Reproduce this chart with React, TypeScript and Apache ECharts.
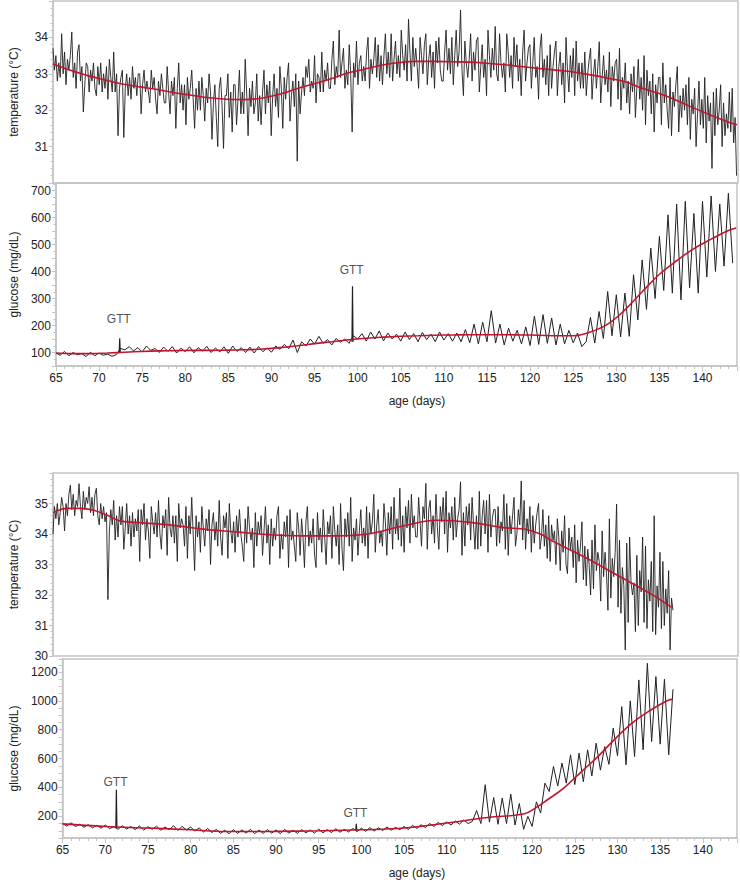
import React, { useEffect, useRef } from "react";
import * as echarts from "echarts";

// ---------- DATA ----------
// Upper animal: temperature, 6 readings per day starting at day 65
const tempStartDay = 65;
const tempStep = 1 / 6;
const tempTop = [
  33.7, 33.1, 33.5, 32.8, 33.3, 32.9,
  34.1, 33.0, 33.6, 32.7, 33.4, 33.1,
  33.5, 34.15, 32.9, 33.3, 32.6, 33.6,
  33.8, 32.8, 33.2, 31.95, 32.7, 33.3,
  33.2, 32.5, 33.1, 32.8, 33.3, 32.6,
  32.4, 33.2, 32.7, 33.3, 32.5, 33.0,
  32.6, 33.2, 32.3, 33.4, 32.9, 32.5,
  33.6, 32.5, 33.0, 31.3, 32.6, 32.9,
  33.1, 31.25, 32.6, 33.0, 32.4, 32.9,
  32.3, 33.2, 32.6, 32.9, 32.4, 33.0,
  33.0, 31.9, 32.7, 33.1, 32.5, 32.8,
  32.5, 32.2, 33.1, 32.6, 32.9, 32.3,
  31.9, 32.8, 32.4, 33.0, 32.6, 32.2,
  32.2, 33.2, 32.5, 31.9, 32.8, 32.4,
  32.9, 31.5, 32.6, 33.3, 32.2, 32.7,
  32.0, 32.7, 31.6, 32.9, 32.3, 32.6,
  33.1, 32.3, 31.5, 32.6, 32.0, 32.8,
  32.0, 32.9, 32.4, 31.7, 32.6, 32.2,
  33.0, 32.5, 31.2, 32.2, 32.7, 31.8,
  31.0, 32.6, 32.9, 32.1, 30.95, 32.4,
  32.4, 33.0, 31.8, 32.5, 31.4, 32.7,
  32.7, 31.6, 32.3, 33.1, 31.9, 32.5,
  31.9, 33.4, 32.5, 31.3, 32.6, 32.1,
  32.8, 31.9, 32.2, 33.0, 31.7, 32.4,
  31.6, 32.5, 33.1, 31.9, 32.7, 32.2,
  32.8, 31.3, 32.4, 33.0, 32.1, 32.6,
  31.8, 33.2, 32.6, 31.5, 32.9, 32.3,
  32.9, 33.3, 31.7, 32.4, 32.8, 32.1,
  33.0, 30.6, 32.8, 31.9, 32.5, 32.9,
  32.4, 33.2, 32.9, 33.4, 32.5, 32.8,
  32.6, 33.5, 32.2, 33.0, 32.9, 32.5,
  33.6, 32.5, 33.1, 32.8, 33.3, 32.6,
  32.6, 33.4, 33.9, 32.7, 33.2, 32.9,
  34.2, 32.9, 33.3, 33.7, 32.6, 33.1,
  32.7, 33.8, 33.0, 31.4, 33.3, 32.9,
  33.9, 32.7, 33.3, 33.5, 32.8, 33.2,
  32.8, 33.6, 34.0, 32.6, 33.4, 33.0,
  33.4, 34.0, 32.9, 33.8, 32.8, 33.5,
  32.7, 33.5, 34.1, 33.0, 33.6, 32.9,
  34.1, 32.8, 33.4, 33.9, 33.0, 33.5,
  32.9, 34.2, 33.5, 33.1, 33.8, 32.8,
  34.5, 33.6, 32.8, 34.0, 33.2, 33.7,
  33.2, 32.6, 34.0, 33.5, 33.0, 33.8,
  34.1, 32.7, 33.4, 33.8, 32.9, 33.6,
  32.6, 33.9, 33.3, 34.0, 33.1, 32.8,
  32.8, 33.6, 34.2, 33.1, 33.7, 33.0,
  34.0, 32.7, 33.5, 34.2, 33.2, 33.6,
  34.75, 33.1, 32.4, 33.9, 33.3, 32.9,
  33.4, 34.1, 32.8, 33.6, 33.1, 33.9,
  34.0, 32.5, 33.2, 33.8, 32.9, 33.4,
  32.4, 34.2, 33.5, 32.9, 33.7, 33.1,
  34.3, 33.0, 32.8, 34.1, 33.3, 32.9,
  33.3, 32.5, 34.1, 33.6, 32.9, 33.5,
  32.6, 34.0, 33.2, 33.8, 32.8, 33.4,
  32.4, 33.6, 34.2, 32.8, 33.3, 33.7,
  33.8, 32.6, 33.3, 34.0, 32.9, 33.2,
  32.3, 33.7, 34.1, 32.9, 33.4, 32.7,
  33.5, 32.4, 33.8, 32.6, 33.2, 33.6,
  33.9, 32.4, 33.2, 33.6, 32.7, 33.3,
  32.2, 34.0, 33.1, 32.5, 33.5, 32.9,
  33.7, 32.4, 33.9, 32.8, 33.3, 32.6,
  33.3, 32.6, 33.6, 32.4, 33.0, 33.4,
  33.7, 32.3, 33.0, 33.4, 32.6, 33.2,
  33.88, 32.2, 32.9, 33.5, 32.7, 33.1,
  32.5, 33.6, 32.1, 33.2, 32.8, 33.3,
  33.4, 32.3, 33.7, 32.0, 32.9, 32.6,
  33.3, 32.2, 32.8, 31.9, 33.0, 32.5,
  33.2, 31.8, 32.6, 33.4, 32.3, 32.9,
  32.0, 33.5, 31.6, 33.1, 32.4, 32.8,
  31.9, 33.0, 31.4, 32.7, 32.2, 32.9,
  32.9, 31.6, 33.3, 32.2, 32.7, 32.0,
  31.5, 32.9, 31.3, 32.5, 32.1, 32.7,
  33.2, 31.4, 32.4, 31.8, 32.6, 32.0,
  32.7, 31.6, 32.9, 31.2, 32.3, 31.9,
  32.6, 31.0, 31.9, 32.8, 31.6, 32.3,
  31.5, 32.9, 31.1, 32.4, 31.7, 32.2,
  30.4, 32.5, 31.3, 32.6, 31.6, 32.0,
  32.7, 31.0, 32.2, 31.3, 31.9, 31.5,
  32.5, 31.4, 32.6, 31.1, 31.8, 30.2,
];
const tempTopTrendDays = [
  65, 67, 69, 71, 73, 75, 77, 79, 81, 83, 85, 87, 89, 91, 93, 95, 97, 99, 101, 103, 105,
  107, 109, 111, 113, 115, 117, 119, 121, 123, 125, 127, 129, 131, 133, 135, 137, 139, 141, 143, 143.9,
];
const tempTopTrend = [
  33.27, 33.1, 32.95, 32.83, 32.72, 32.64, 32.57, 32.48, 32.41, 32.34, 32.3, 32.29, 32.33, 32.43,
  32.58, 32.72, 32.86, 33.02, 33.13, 33.24, 33.31, 33.34, 33.34, 33.33, 33.32, 33.29, 33.25, 33.2,
  33.15, 33.1, 33.05, 32.97, 32.88, 32.78, 32.6, 32.45, 32.26, 32.05, 31.85, 31.66, 31.6,
];

// Upper animal: glucose, 2 readings per day starting at day 65
const glucStartDay = 65;
const glucStep = 0.5;
const glucTop = [
  98, 90, 104, 88, 100, 92, 96, 85, 101, 88, 98, 90, 94, 86, 92, 115,
  110, 122, 106, 118, 102, 124, 108, 115, 100, 120, 104, 122, 98, 116, 103, 121,
  99, 118, 105, 123, 100, 117, 102, 121, 97, 124, 104, 118, 100, 120, 98, 122,
  103, 117, 101, 124, 112, 130, 114, 146, 100, 140, 124, 150, 131, 160, 134, 148,
  128, 152, 138, 150, 134, 162, 150, 170, 142, 176, 150, 180, 143, 172, 150, 168,
  142, 176, 148, 170, 140, 174, 148, 168, 140, 176, 146, 170, 142, 172, 140, 185,
  136, 205, 132, 212, 140, 255, 135, 205, 128, 190, 142, 182, 132, 195, 126, 235,
  130, 240, 134, 228, 128, 205, 132, 182, 136, 172, 122, 140, 230, 135, 252, 152,
  326, 162, 314, 158, 320, 160, 388, 221, 443, 260, 487, 300, 530, 330, 610, 320,
  650, 295, 660, 340, 615, 320, 660, 380, 680, 400, 650, 420, 690, 431,
];
const glucTopTrend = [
  98, 96, 96, 98, 101, 104, 106, 107, 108, 108, 109, 110, 113, 118, 125, 133, 140, 147, 153, 157,
  160, 162, 164, 165, 166, 166, 166, 165, 164, 162, 162, 176, 205, 258, 325, 390, 440, 485, 520,
  552, 561,
];

// Lower animal: temperature, 6 readings per day starting at day 65
const tempBottom = [
  34.0, 34.9, 34.5, 35.0, 34.3, 34.7,
  35.2, 34.9, 34.1, 35.0, 34.6, 35.3,
  35.6, 34.8, 35.3, 34.6, 35.1, 34.9,
  35.65, 34.9, 34.5, 35.4, 34.8, 35.2,
  35.0, 35.55, 34.7, 35.2, 34.6, 35.3,
  35.5, 34.6, 34.3, 35.0, 34.5, 34.9,
  34.4, 34.7, 31.85, 34.1, 34.8, 34.3,
  35.1, 33.8, 34.6, 33.9, 34.9, 34.3,
  34.9, 33.5, 34.2, 35.0, 34.0, 34.6,
  33.6, 34.7, 33.9, 34.5, 34.1, 34.8,
  33.1, 34.8, 34.3, 35.0, 33.8, 34.5,
  34.1, 33.2, 34.9, 34.4, 34.0, 34.7,
  33.9, 35.1, 34.0, 33.5, 34.6, 34.2,
  34.8, 33.3, 35.2, 34.2, 33.9, 34.6,
  33.7, 34.6, 33.1, 35.0, 34.2, 34.5,
  34.3, 33.6, 34.9, 33.2, 34.6, 34.0,
  35.2, 34.0, 32.8, 34.6, 33.9, 34.4,
  33.4, 34.9, 34.2, 33.6, 34.5, 34.1,
  34.8, 33.0, 34.3, 34.7, 33.8, 34.4,
  33.6, 35.1, 33.9, 33.3, 34.6, 34.2,
  34.7, 33.2, 35.0, 34.1, 33.7, 34.4,
  33.4, 34.6, 33.9, 34.8, 34.0, 33.6,
  33.1, 34.5, 33.7, 34.9, 34.2, 33.8,
  34.2, 32.9, 34.7, 33.6, 34.4, 34.0,
  34.6, 33.3, 34.1, 34.9, 33.7, 34.3,
  33.0, 34.5, 33.6, 34.2, 33.8, 34.6,
  34.9, 33.2, 34.0, 33.5, 34.4, 33.9,
  34.6, 32.9, 34.8, 33.8, 34.1, 33.6,
  33.1, 34.7, 34.2, 33.3, 34.5, 33.9,
  32.9, 34.4, 34.9, 33.6, 34.1, 33.7,
  34.5, 33.3, 32.9, 34.7, 33.8, 34.2,
  33.4, 34.8, 33.9, 33.0, 34.4, 34.0,
  34.6, 33.2, 34.9, 34.1, 33.6, 34.3,
  33.0, 35.0, 33.5, 32.8, 34.5, 33.9,
  34.7, 33.6, 35.2, 33.1, 34.2, 33.8,
  34.5, 33.3, 34.1, 34.8, 33.7, 34.2,
  33.6, 34.9, 33.2, 34.7, 34.0, 34.4,
  35.3, 33.4, 34.3, 34.8, 33.7, 34.1,
  33.6, 35.0, 34.4, 33.3, 34.7, 34.0,
  34.9, 33.5, 35.2, 34.0, 34.5, 33.8,
  35.5, 33.6, 34.6, 33.4, 34.9, 34.2,
  35.1, 33.7, 35.3, 34.2, 34.6, 33.9,
  33.9, 35.2, 34.4, 33.6, 34.9, 34.5,
  35.66, 33.5, 34.8, 35.1, 34.0, 34.6,
  33.7, 35.3, 34.2, 33.5, 34.9, 34.4,
  35.2, 34.0, 35.4, 33.4, 34.7, 34.2,
  34.9, 33.8, 35.2, 33.9, 34.5, 34.8,
  35.71, 33.3, 34.7, 33.6, 34.9, 34.3,
  35.0, 33.8, 35.2, 34.3, 33.5, 34.6,
  33.5, 35.4, 33.6, 34.6, 35.1, 34.0,
  35.1, 33.4, 35.3, 33.9, 34.5, 34.8,
  34.8, 33.6, 34.9, 33.7, 34.4, 34.1,
  35.3, 33.5, 35.0, 33.3, 34.6, 34.0,
  34.6, 35.2, 33.6, 34.0, 34.8, 34.3,
  35.74, 33.8, 35.1, 33.5, 34.5, 34.0,
  34.9, 33.4, 34.6, 33.7, 34.3, 34.7,
  35.0, 33.5, 33.9, 34.8, 33.6, 34.3,
  33.2, 34.6, 33.1, 34.3, 33.8, 34.1,
  33.0, 34.5, 33.9, 32.8, 34.1, 33.4,
  34.6, 33.0, 32.7, 34.2, 33.5, 33.9,
  32.9, 34.3, 32.4, 33.8, 33.1, 33.6,
  34.4, 32.5, 33.6, 32.3, 33.5, 33.0,
  32.0, 33.8, 32.2, 34.3, 32.8, 33.4,
  33.1, 31.8, 34.1, 32.6, 33.4, 32.7,
  31.5, 34.5, 31.9, 33.2, 32.6, 33.4,
  34.98, 31.6, 33.8, 31.4, 32.9, 32.3,
  30.2, 33.7, 31.1, 33.9, 32.4, 32.0,
  32.4, 30.8, 33.3, 31.0, 32.8, 32.1,
  33.9, 31.1, 33.6, 30.9, 32.5, 31.8,
  33.1, 30.8, 34.6, 30.7, 32.3, 31.6,
  33.4, 30.9, 33.1, 31.0, 32.2, 31.4,
  32.8, 30.2, 31.9, 31.5,
];
const tempBottomTrendDays = [
  65, 66.7, 68.2, 69.7, 71.2, 72.7, 74.6, 78.4, 82.3, 86.1, 89.9, 93.7, 97.5, 101.3, 105.5,
  109.3, 113.1, 116.9, 119.6, 121.2, 122.6, 126.4, 130.2, 134.0, 136.3,
];
const tempBottomTrend = [
  34.7, 34.84, 34.84, 34.78, 34.62, 34.43, 34.38, 34.3, 34.16, 34.07, 33.98, 33.94, 33.94, 34.0,
  34.27, 34.45, 34.38, 34.21, 34.15, 34.0, 33.77, 33.23, 32.63, 32.03, 31.6,
];

// Lower animal: glucose, 2 readings per day starting at day 65
const glucBottom = [
  150, 132, 155, 130, 145, 125, 142, 120, 138, 118, 140, 115, 128, 110, 135, 112,
  130, 108, 134, 105, 128, 110, 132, 104, 126, 108, 135, 102, 130, 106, 126, 98,
  120, 92, 116, 88, 110, 82, 104, 80, 108, 82, 106, 84, 110, 80, 105, 82,
  108, 84, 106, 80, 110, 84, 104, 82, 108, 86, 106, 84, 112, 86, 108, 88,
  114, 90, 110, 92, 116, 94, 118, 96, 122, 98, 120, 102, 126, 104, 124, 108,
  130, 110, 138, 116, 142, 122, 150, 130, 158, 136, 162, 140, 168, 146, 175, 150,
  165, 240, 150, 419, 160, 330, 145, 327, 150, 354, 140, 289, 110, 200, 130, 300,
  223, 430, 372, 545, 410, 569, 430, 626, 420, 638, 440, 661, 480, 707, 520, 683,
  560, 811, 620, 960, 557, 1000, 614, 1145, 661, 1260, 718, 1168, 700, 1150, 626, 1080,
];
const glucBottomTrendDays = [
  65, 70, 75, 80, 83, 86, 90, 95, 100, 105, 110, 114.8, 119.1, 120.5, 121.8, 123.7, 125.6,
  127.7, 129.6, 131.7, 133.6, 136.0, 136.4,
];
const glucBottomTrend = [
  148, 130, 119, 107, 97, 95, 96, 100, 107, 119, 154, 192, 218, 262, 315, 396, 500, 614, 730,
  845, 925, 1006, 1010,
];

// Glucose tolerance tests (day, baseline, peak, label value)
const gttTopDays = [72.4, 99.4];
const gttTopBase = [100, 140];
const gttTopPeak = [153, 345];
const gttTopLabelAt = [224, 406];
const gttBottomDays = [71.3, 99.4];
const gttBottomBase = [120, 100];
const gttBottomPeak = [384, 149];
const gttBottomLabelAt = [436, 224];

const gttText = "GTT";
const tempTitle = "temperature (°C)";
const glucTitle = "glucose (mg/dL)";
const ageTitle = "age (days)";

// ---------- CHART ----------
const FONT = '"Liberation Sans", Arial, Helvetica, sans-serif';
const GRID_GREY = "#c4c4c4";
const TEXT = "#222";
const BLACK = "#202020";
const RED = "#c2142e";

const toPairs = (vals: number[], start: number, step: number) =>
  vals.map((v, i) => [start + i * step, v]);
const zipPairs = (xs: number[], ys: number[]) => xs.map((x, i) => [x, ys[i]]);

export default function App() {
  const ref = useRef<HTMLDivElement>(null);

  useEffect(() => {
    if (!ref.current) return;
    const chart = echarts.init(ref.current, undefined, { renderer: "svg" });

    const gridBase = { left: 48, right: 2, show: true, borderColor: GRID_GREY, borderWidth: 1.5, containLabel: false };
    const grids = [
      { ...gridBase, top: 1, height: 182 },
      { ...gridBase, top: 183, height: 183 },
      { ...gridBase, top: 473, height: 183 },
      { ...gridBase, top: 659, height: 179 },
    ];

    const xAxisFor = (gridIndex: number, visible: boolean) => ({
      type: "value",
      gridIndex,
      min: 65,
      max: 144,
      interval: 5,
      axisLine: { show: visible, lineStyle: { color: GRID_GREY, width: 1.5 } },
      axisTick: { show: visible, inside: false, length: 5, lineStyle: { color: GRID_GREY } },
      minorTick: { show: visible, splitNumber: 5, length: 3, lineStyle: { color: GRID_GREY } },
      splitLine: { show: false },
      axisLabel: {
        show: visible,
        margin: 6,
        color: TEXT,
        fontSize: 12,
        fontFamily: FONT,
        formatter: (v: number) => (v % 5 === 0 ? String(v) : ""),
      },
    });

    const yAxisFor = (
      gridIndex: number,
      min: number,
      max: number,
      interval: number,
      labelOk: (v: number) => boolean,
      name: string,
      minorSplit: number
    ) => ({
      type: "value",
      gridIndex,
      min,
      max,
      interval,
      name,
      nameLocation: "middle",
      nameGap: 33,
      nameTextStyle: { color: TEXT, fontSize: 12, fontFamily: FONT },
      axisLine: { show: true, lineStyle: { color: GRID_GREY, width: 1.5 } },
      axisTick: { show: true, inside: false, length: 4, lineStyle: { color: GRID_GREY } },
      minorTick: { show: minorSplit > 1, splitNumber: minorSplit, length: 2.5, lineStyle: { color: GRID_GREY } },
      splitLine: { show: false },
      axisLabel: {
        margin: 5,
        color: TEXT,
        fontSize: 12,
        fontFamily: FONT,
        formatter: (v: number) => (labelOk(v) ? String(v) : ""),
      },
    });

    const noisy = (data: number[][], xi: number, w: number) => ({
      type: "line",
      xAxisIndex: xi,
      yAxisIndex: xi,
      data,
      showSymbol: false,
      symbol: "none",
      lineStyle: { color: BLACK, width: w },
      z: 2,
      silent: true,
    });
    const trend = (data: number[][], xi: number) => ({
      type: "line",
      xAxisIndex: xi,
      yAxisIndex: xi,
      data,
      smooth: 0.4,
      showSymbol: false,
      symbol: "none",
      lineStyle: { color: RED, width: 1.6 },
      z: 3,
      silent: true,
    });
    const spikes = (days: number[], base: number[], peak: number[], xi: number) =>
      days.map((d, i) => ({
        type: "line",
        xAxisIndex: xi,
        yAxisIndex: xi,
        data: [
          [d - 0.06, base[i]],
          [d, peak[i]],
          [d + 0.06, base[i]],
        ],
        showSymbol: false,
        symbol: "none",
        lineStyle: { color: BLACK, width: 1.2 },
        z: 2,
        silent: true,
      }));
    const gttLabels = (days: number[], at: number[], xi: number) => ({
      type: "scatter",
      xAxisIndex: xi,
      yAxisIndex: xi,
      data: zipPairs(days, at),
      symbol: "circle",
      symbolSize: 1,
      itemStyle: { color: "rgba(0,0,0,0)" },
      label: {
        show: true,
        position: "inside",
        formatter: gttText,
        color: TEXT,
        fontSize: 12,
        fontFamily: FONT,
      },
      z: 4,
      silent: true,
    });

    chart.setOption({
      animation: false,
      backgroundColor: "#ffffff",
      textStyle: { fontFamily: FONT },
      grid: grids,
      xAxis: [xAxisFor(0, false), xAxisFor(1, true), xAxisFor(2, false), xAxisFor(3, true)],
      yAxis: [
        yAxisFor(0, 30, 35, 1, (v) => v > 30 && v < 35, tempTitle, 5),
        yAxisFor(1, 50, 728, 50, (v) => v % 100 === 0, glucTitle, 2),
        yAxisFor(2, 30, 36, 1, (v) => v < 36, tempTitle, 5),
        yAxisFor(3, 50, 1290, 50, (v) => v % 200 === 0, glucTitle, 1),
      ],
      graphic: [
        {
          type: "text",
          x: 417,
          y: 401,
          style: { text: ageTitle, fill: TEXT, fontSize: 12, fontFamily: FONT, align: "center", verticalAlign: "middle" },
        },
        {
          type: "text",
          x: 417,
          y: 873,
          style: { text: ageTitle, fill: TEXT, fontSize: 12, fontFamily: FONT, align: "center", verticalAlign: "middle" },
        },
      ],
      series: [
        noisy(toPairs(tempTop, tempStartDay, tempStep), 0, 0.9),
        trend(zipPairs(tempTopTrendDays, tempTopTrend), 0),
        noisy(toPairs(glucTop, glucStartDay, glucStep), 1, 1),
        ...spikes(gttTopDays, gttTopBase, gttTopPeak, 1),
        trend(zipPairs(tempTopTrendDays, glucTopTrend), 1),
        gttLabels(gttTopDays.map((d) => d - 0.1), gttTopLabelAt, 1),
        noisy(toPairs(tempBottom, tempStartDay, tempStep), 2, 0.9),
        trend(zipPairs(tempBottomTrendDays, tempBottomTrend), 2),
        noisy(toPairs(glucBottom, glucStartDay, glucStep), 3, 1),
        ...spikes(gttBottomDays, gttBottomBase, gttBottomPeak, 3),
        trend(zipPairs(glucBottomTrendDays, glucBottomTrend), 3),
        gttLabels(gttBottomDays.map((d) => d - 0.1), gttBottomLabelAt, 3),
      ],
    });

    return () => chart.dispose();
  }, []);

  return (
    <div
      ref={ref}
      style={{ position: "absolute", left: 0, top: 0, width: 740, height: 880, background: "#fff" }}
    />
  );
}
